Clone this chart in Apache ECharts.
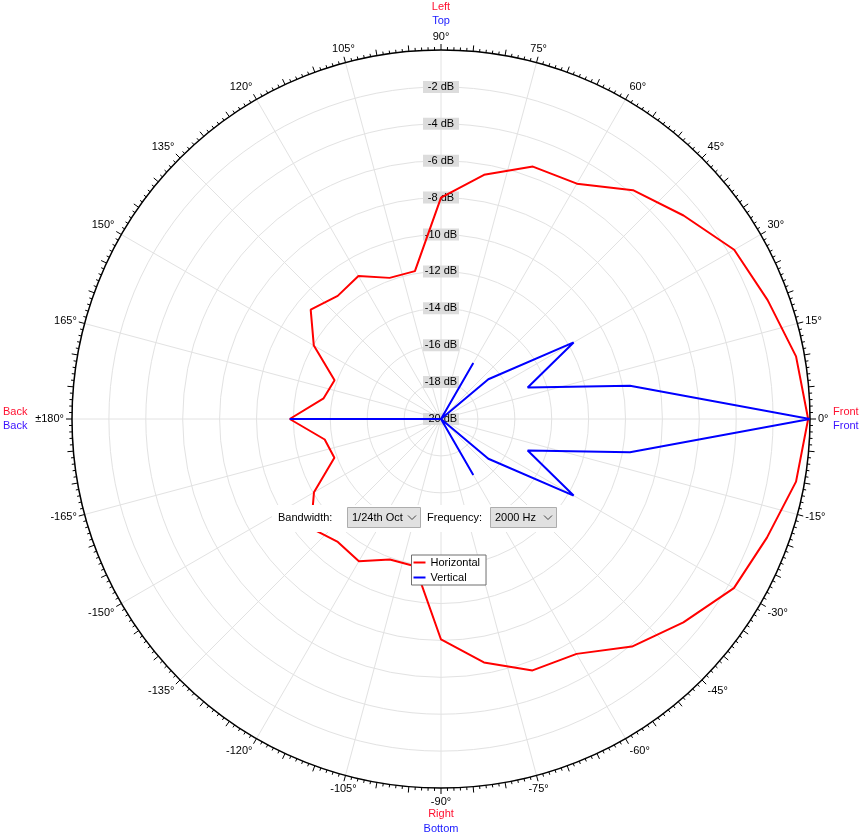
<!DOCTYPE html>
<html><head><meta charset="utf-8">
<script src="https://cdn.jsdelivr.net/npm/echarts@6/dist/echarts.min.js"></script>
<style>html,body{margin:0;padding:0;background:#fff}#c{width:863px;height:837px}</style>
</head><body><div id="c"></div>
<script>
// Measurement angles in degrees (0 = Front, 90 = Left/Top, -90 = Right/Bottom)
const angles = [-180,-170,-160,-150,-140,-130,-120,-110,-100,-90,-80,-70,-60,-50,-40,-30,-20,-10,
                0,10,20,30,40,50,60,70,80,90,100,110,120,130,140,150,160,170,180];
// Horizontal response (dB)
const horizontal = [-11.8,-13.6,-13.85,-12.05,-10.8,-11.3,-11.1,-11.9,-11.9,-8.05,-6.6,-5.5,-5.3,-3.9,-2.85,-1.67,-1.2,-0.46,
                    -0.1,-0.46,-1.16,-1.65,-2.84,-3.81,-5.27,-5.44,-6.56,-8.0,-11.86,-11.86,-11.05,-11.29,-10.78,-12.04,-13.86,-13.54,-11.8];
// Vertical response (dB)
const vertical = [-11.8,-20,-20,-20,-20,-20,-20,-20,-20,-20,-20,-20,-16.5,-20,-16.65,-11.7,-15.0,-9.6,
                  0,-9.6,-15.0,-11.7,-16.65,-20,-16.5,-20,-20,-20,-20,-20,-20,-20,-20,-20,-20,-20,-11.8];
const seriesNames = ['Horizontal','Vertical'];
const dbMin = -20, dbMax = 0, dbStep = 2;
const angleLabelStep = 15;

const FONT = '"Liberation Sans", Arial, sans-serif';
const C = [441, 419], R = 369;
// axis runs from -270 (top) counter-clockwise to 90 (top); fold angles > 90 onto it
const toAxis = a => (a > 90 ? a - 360 : a);
const angleLabel = v => {
  let d = v < -180 ? v + 360 : v;
  if (d === -180 || d === 180) return '±180°';
  return d + '°';
};

const chart = echarts.init(document.getElementById('c'), null, {renderer:'canvas'});
chart.setOption({
  animation: false,
  backgroundColor: '#fff',
  polar: [{center: C, radius: R}, {center: C, radius: R}],
  angleAxis: [
    {polarIndex:0, type:'value', min:-270, max:90, interval:angleLabelStep, startAngle:90, clockwise:false,
     axisLine:{show:true, lineStyle:{color:'#000', width:1.5}},
     axisTick:{show:false},
     axisLabel:{show:true, margin:8, color:'#000', fontSize:11, fontFamily:FONT, formatter: angleLabel},
     splitLine:{show:true, lineStyle:{color:'#e2e2e2', width:1}}},
    {polarIndex:1, type:'value', min:-270, max:90, interval:5, startAngle:90, clockwise:false,
     axisLine:{show:false},
     axisTick:{show:true, inside:false, length:6, lineStyle:{color:'#000', width:1}},
     minorTick:{show:true, splitNumber:5, length:3, lineStyle:{color:'#000', width:1}},
     axisLabel:{show:false}, splitLine:{show:false}}
  ],
  radiusAxis: [
    {polarIndex:0, type:'value', min:dbMin, max:dbMax, interval:dbStep,
     axisLine:{show:false}, axisTick:{show:false},
     splitLine:{show:true, lineStyle:{color:'#e2e2e2', width:1}},
     axisLabel:{show:true, showMaxLabel:false, showMinLabel:true, margin:0, formatter:'{value} dB',
       color:'#000', fontSize:11, fontFamily:FONT, backgroundColor:'#dcdcdc', width:32, padding:[0,2],
       lineHeight:12, align:'center', verticalAlign:'middle'}},
    {polarIndex:1, type:'value', min:dbMin, max:dbMax, axisLine:{show:false}, axisTick:{show:false},
     axisLabel:{show:false}, splitLine:{show:false}}
  ],
  legend: {data: seriesNames, orient:'vertical', left:411.5, top:555, icon:'rect', itemWidth:12, itemHeight:2,
    itemGap:0, padding:[0,6,0,2], backgroundColor:'#fff', borderColor:'#6e6e6e', borderWidth:1, borderRadius:0,
    textStyle:{fontSize:11, fontFamily:FONT, color:'#000', lineHeight:15}, z:20, selectedMode:false},
  series: [
    {name:seriesNames[0], type:'line', coordinateSystem:'polar', polarIndex:0, symbol:'none',
     data: angles.map((a,i) => [horizontal[i], toAxis(a)]),
     lineStyle:{color:'#ff0000', width:2}, itemStyle:{color:'#ff0000'}, z:3},
    {name:seriesNames[1], type:'line', coordinateSystem:'polar', polarIndex:0, symbol:'none',
     data: angles.map((a,i) => [vertical[i], toAxis(a)]),
     lineStyle:{color:'#0000ff', width:2}, itemStyle:{color:'#0000ff'}, z:4}
  ],
  graphic: [
    {type:'text', x:441, y:7, style:{text:'Left', fill:'#ff1030', font:'11px '+FONT, align:'center', verticalAlign:'middle'}},
    {type:'text', x:441, y:21, style:{text:'Top', fill:'#1a1aff', font:'11px '+FONT, align:'center', verticalAlign:'middle'}},
    {type:'text', x:833, y:412, style:{text:'Front', fill:'#ff1030', font:'11px '+FONT, align:'left', verticalAlign:'middle'}},
    {type:'text', x:833, y:426, style:{text:'Front', fill:'#3a10ff', font:'11px '+FONT, align:'left', verticalAlign:'middle'}},
    {type:'text', x:3, y:412, style:{text:'Back', fill:'#ff1030', font:'11px '+FONT, align:'left', verticalAlign:'middle'}},
    {type:'text', x:3, y:426, style:{text:'Back', fill:'#3a10ff', font:'11px '+FONT, align:'left', verticalAlign:'middle'}},
    {type:'text', x:441, y:814, style:{text:'Right', fill:'#ff1030', font:'11px '+FONT, align:'center', verticalAlign:'middle'}},
    {type:'text', x:441, y:829, style:{text:'Bottom', fill:'#1a1aff', font:'11px '+FONT, align:'center', verticalAlign:'middle'}},
    {type:'rect', shape:{x:272, y:505, width:290, height:27}, style:{fill:'#fff'}, z:50},
    {type:'text', x:278, y:517.5, z:51, style:{text:'Bandwidth:', fill:'#000', font:'11px '+FONT, align:'left', verticalAlign:'middle'}},
    {type:'rect', shape:{x:347.5, y:507.5, width:73, height:20}, style:{fill:'#e1e1e1', stroke:'#adadad', lineWidth:1}, z:51},
    {type:'text', x:352, y:517.5, z:52, style:{text:'1/24th Oct', fill:'#000', font:'11px '+FONT, align:'left', verticalAlign:'middle'}},
    {type:'polyline', shape:{points:[[408,515.5],[412,519.5],[416,515.5]]}, style:{stroke:'#444', lineWidth:1, fill:null}, z:53},
    {type:'text', x:427, y:517.5, z:51, style:{text:'Frequency:', fill:'#000', font:'11px '+FONT, align:'left', verticalAlign:'middle'}},
    {type:'rect', shape:{x:490.5, y:507.5, width:66, height:20}, style:{fill:'#e1e1e1', stroke:'#adadad', lineWidth:1}, z:51},
    {type:'text', x:495, y:517.5, z:52, style:{text:'2000 Hz', fill:'#000', font:'11px '+FONT, align:'left', verticalAlign:'middle'}},
    {type:'polyline', shape:{points:[[544,515.5],[548,519.5],[552,515.5]]}, style:{stroke:'#444', lineWidth:1, fill:null}, z:53}
  ]
});
</script>
</body></html>
